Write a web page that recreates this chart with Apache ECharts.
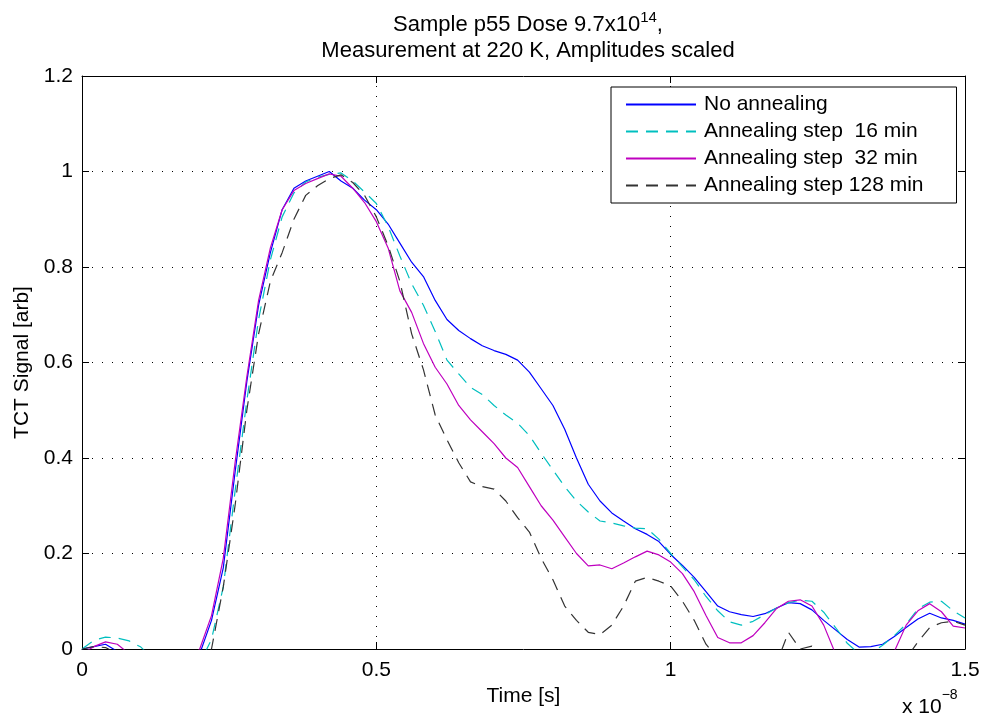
<!DOCTYPE html>
<html><head><meta charset="utf-8">
<script src="https://cdn.jsdelivr.net/npm/echarts@6/dist/echarts.min.js"></script>
<style>html,body{margin:0;padding:0;background:#fff}#c{width:983px;height:722px}</style>
</head><body><div id="c"></div>
<script>
// time in units of 1e-8 s
const timeVals = [0.00,0.02,0.04,0.06,0.08,0.10,0.12,0.14,0.16,0.18,0.20,0.22,0.24,0.26,0.28,0.30,0.32,0.34,0.36,0.38,0.40,0.42,0.44,0.46,0.48,0.50,0.52,0.54,0.56,0.58,0.60,0.62,0.64,0.66,0.68,0.70,0.72,0.74,0.76,0.78,0.80,0.82,0.84,0.86,0.88,0.90,0.92,0.94,0.96,0.98,1.00,1.02,1.04,1.06,1.08,1.10,1.12,1.14,1.16,1.18,1.20,1.22,1.24,1.26,1.28,1.30,1.32,1.34,1.36,1.38,1.40,1.42,1.44,1.46,1.48,1.50];
const noAnnealing = [0.0,0.005,0.01,-0.005,-0.02,-0.03,-0.03,-0.03,-0.03,-0.03,-0.01,0.06,0.17,0.37,0.56,0.72,0.83,0.92,0.965,0.98,0.99,1.0,0.98,0.965,0.94,0.92,0.89,0.85,0.81,0.78,0.73,0.69,0.667,0.65,0.635,0.625,0.617,0.605,0.58,0.545,0.51,0.46,0.40,0.345,0.31,0.285,0.268,0.252,0.24,0.225,0.198,0.175,0.15,0.12,0.09,0.078,0.072,0.068,0.074,0.086,0.097,0.095,0.082,0.06,0.04,0.02,0.004,0.005,0.01,0.026,0.045,0.063,0.075,0.065,0.06,0.052];
const anneal16 = [0.0,0.018,0.025,0.023,0.017,0.004,-0.02,-0.03,-0.03,-0.03,-0.03,0.02,0.13,0.33,0.52,0.69,0.815,0.905,0.955,0.978,0.988,0.994,0.997,0.98,0.957,0.933,0.885,0.823,0.765,0.72,0.665,0.605,0.576,0.548,0.533,0.51,0.49,0.473,0.447,0.41,0.375,0.34,0.31,0.287,0.268,0.264,0.258,0.253,0.252,0.23,0.2,0.172,0.145,0.11,0.08,0.057,0.05,0.058,0.072,0.086,0.097,0.102,0.1,0.077,0.045,0.012,-0.01,-0.01,0.008,0.028,0.052,0.084,0.098,0.1,0.08,0.065];
const anneal32 = [-0.01,0.005,0.015,0.01,-0.01,-0.03,-0.03,-0.03,-0.03,-0.03,0.0,0.07,0.19,0.39,0.57,0.73,0.84,0.92,0.96,0.975,0.985,0.995,0.99,0.965,0.935,0.895,0.84,0.75,0.705,0.64,0.59,0.555,0.51,0.48,0.455,0.43,0.40,0.38,0.34,0.30,0.27,0.235,0.2,0.174,0.176,0.168,0.18,0.193,0.205,0.197,0.182,0.158,0.12,0.07,0.024,0.013,0.013,0.028,0.055,0.085,0.1,0.103,0.09,0.05,-0.01,-0.03,-0.03,-0.03,-0.03,-0.005,0.05,0.08,0.095,0.078,0.048,0.044];
const anneal128 = [0.0,0.005,0.003,-0.01,-0.03,-0.03,-0.03,-0.03,-0.03,-0.03,-0.03,0.0,0.13,0.3,0.5,0.66,0.77,0.83,0.9,0.95,0.97,0.985,0.993,0.977,0.95,0.905,0.845,0.77,0.66,0.585,0.49,0.438,0.39,0.35,0.34,0.335,0.31,0.275,0.245,0.19,0.145,0.09,0.06,0.035,0.03,0.05,0.09,0.142,0.15,0.142,0.132,0.1,0.06,0.01,-0.02,-0.03,-0.03,-0.03,-0.03,-0.03,0.035,0.0,0.006,-0.02,-0.03,-0.03,-0.03,-0.03,-0.03,-0.03,-0.02,0.015,0.045,0.055,0.058,0.05];
const seriesNames = ['No annealing','Annealing step  16 min','Annealing step  32 min','Annealing step 128 min'];
const xTicks = ['0','0.5','1','1.5'];

const FONT = 'Liberation Sans, Arial, Helvetica, sans-serif';
const FS = 21;
const pairs = arr => timeVals.map((t,i)=>[t,arr[i]]);
const styles = [
  {color:'#0000ff', type:'solid'},
  {color:'#00bfbf', type:[12,8]},
  {color:'#bf00bf', type:'solid'},
  {color:'#333333', type:[12,8]}
];
const allData = [noAnnealing, anneal16, anneal32, anneal128];

const chart = echarts.init(document.getElementById('c'), null, {renderer:'canvas'});
const axisCommon = {
  axisLine:{show:true, onZero:false, lineStyle:{color:'#000', width:1}},
  axisTick:{show:true, inside:true, length:7, lineStyle:{color:'#000'}},
  splitLine:{show:false}
};
chart.setOption({
  animation:false,
  backgroundColor:'#fff',
  title:{
    text:'{a|Sample p55 Dose 9.7x10}{s|14}{a|,}\n{a|Measurement at 220 K, Amplitudes scaled}',
    left:523, top:5, textAlign:'center',
    textStyle:{fontWeight:'normal', rich:{
      a:{fontFamily:FONT, fontSize:22, fontWeight:'normal', color:'#000', lineHeight:26, verticalAlign:'bottom'},
      s:{fontFamily:FONT, fontSize:15, fontWeight:'normal', color:'#000', lineHeight:26, verticalAlign:'top', padding:[0,0,12,0]}
    }}
  },
  legend:{
    data:seriesNames,
    left:611, top:87, orient:'vertical',
    itemWidth:70, itemHeight:14, itemGap:6,
    padding:[7,33,7,14],
    itemStyle:{opacity:0},
    borderColor:'#000', borderWidth:1, backgroundColor:'#fff',
    textStyle:{fontFamily:FONT, fontSize:FS, color:'#000', padding:[0,0,0,3]}
  },
  grid:{left:82, right:18, top:76, bottom:73, containLabel:false},
  xAxis:[
    Object.assign({type:'value', min:0, max:1.5, interval:0.5, position:'bottom',
      axisLabel:{fontFamily:FONT, fontSize:FS, color:'#000', margin:11,
        formatter:v=>xTicks[Math.round(v/0.5)]},
      name:'Time [s]', nameLocation:'middle', nameGap:36,
      nameTextStyle:{fontFamily:FONT, fontSize:FS, color:'#000'}}, axisCommon,
      {splitLine:{show:true, lineStyle:{color:'#000', type:[1,9], width:1}}}),
    Object.assign({type:'value', min:0, max:1.5, interval:0.5, position:'top',
      axisLabel:{show:false}}, axisCommon)
  ],
  yAxis:[
    Object.assign({type:'value', min:0, max:1.2, interval:0.2, position:'left',
      axisLabel:{fontFamily:FONT, fontSize:FS, color:'#000', margin:9,
        formatter:v=>String(Math.round(v*10)/10)},
      name:'TCT Signal [arb]', nameLocation:'middle', nameGap:46, nameRotate:90,
      nameTextStyle:{fontFamily:FONT, fontSize:FS, color:'#000'}}, axisCommon,
      {splitLine:{show:true, lineStyle:{color:'#000', type:[1,9], width:1}}}),
    Object.assign({type:'value', min:0, max:1.2, interval:0.2, position:'right',
      axisLabel:{show:false}}, axisCommon)
  ],
  series: seriesNames.map((n,i)=>({
    name:n, type:'line', data:pairs(allData[i]), showSymbol:false, symbol:'none',
    clip:true, smooth:false,
    itemStyle:{color:styles[i].color},
    lineStyle:{color:styles[i].color, width:1.2, type:styles[i].type}
  })),
  graphic:[{
    type:'text', left:902, top:688,
    style:{
      text:'{a|x 10}{s|−8}',
      rich:{
        a:{fontFamily:FONT, fontSize:FS, fill:'#000', lineHeight:30, verticalAlign:'bottom'},
        s:{fontFamily:FONT, fontSize:14, fill:'#000', lineHeight:30, verticalAlign:'top', padding:[0,0,14,0]}
      }
    }
  }]
});
</script></body></html>
